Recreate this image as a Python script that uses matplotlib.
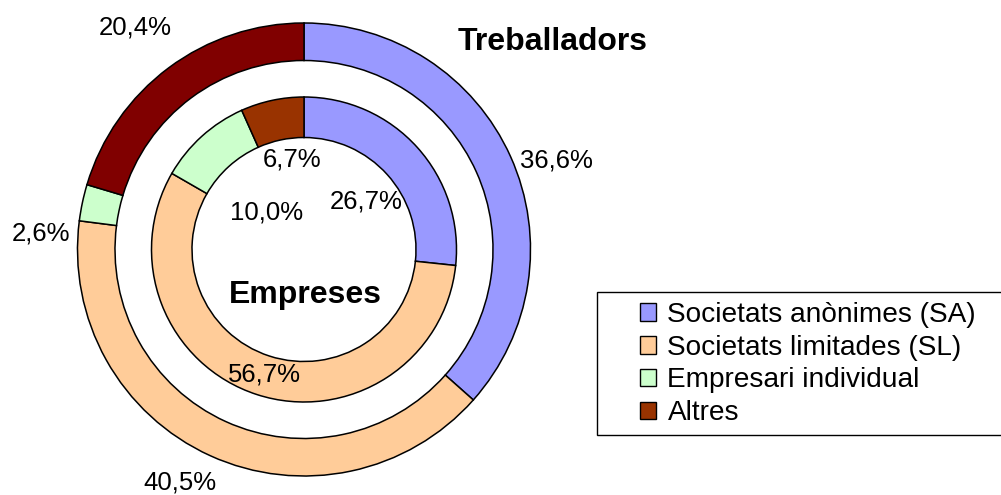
import matplotlib
matplotlib.use('Agg')
import matplotlib.pyplot as plt
from matplotlib.patches import Patch, Rectangle
import numpy as np

# ---- data ----
categories = ['Societats anònimes (SA)', 'Societats limitades (SL)',
              'Empresari individual', 'Altres']
treballadors = [36.6, 40.5, 2.6, 20.4]
empreses = [26.7, 56.7, 10.0, 6.7]
treballadors_labels = ['36,6%', '40,5%', '2,6%', '20,4%']
empreses_labels = ['26,7%', '56,7%', '10,0%', '6,7%']
ring_titles = ['Treballadors', 'Empreses']

# ---- styles ----
colors_outer = ['#9999FF', '#FFCC99', '#CCFFCC', '#800000']
colors_inner = ['#9999FF', '#FFCC99', '#CCFFCC', '#993300']
# label placement (radius in units of outer radius, angle shift in degrees)
outer_lab_r = [1.183, 1.155, 1.166, 1.24]
outer_lab_shift = [-4.3, -3.8, 8.0, 0.3]
inner_lab_r = [0.353, 0.57, 0.24, 0.41]
inner_lab_shift = [-3.0, 0.2, 1.2, -4.6]

plt.rcParams['font.family'] = ['Liberation Sans', 'DejaVu Sans']

W, H, dpi = 1001, 495, 100
fig = plt.figure(figsize=(W / dpi, H / dpi), dpi=dpi)

cx, cy_top, R = 304.0, 249.5, 226.5
cy = H - cy_top
half = 260.0
ax = fig.add_axes([(cx - half) / W, (cy - half) / H, 2 * half / W, 2 * half / H])

wk = dict(edgecolor='black', linewidth=1.1)
w_out, _ = ax.pie(treballadors, radius=1.0, colors=colors_outer, startangle=90,
                  counterclock=False,
                  wedgeprops=dict(width=1 - 189.0 / R, **wk))
w_in, _ = ax.pie(empreses, radius=152.5 / R, colors=colors_inner, startangle=90,
                 counterclock=False,
                 wedgeprops=dict(width=(152.5 - 112.0) / R, **wk))
ax.set_xlim(-half / R, half / R)
ax.set_ylim(-half / R, half / R)
ax.set_aspect('equal')
ax.axis('off')

lab_fs = 18.5
for wedges, labs, rads, shifts in [(w_out, treballadors_labels, outer_lab_r, outer_lab_shift),
                                   (w_in, empreses_labels, inner_lab_r, inner_lab_shift)]:
    for w, lab, r, s in zip(wedges, labs, rads, shifts):
        ang = np.deg2rad((w.theta1 + w.theta2) / 2 + s)
        ax.text(r * np.cos(ang), r * np.sin(ang), lab, ha='center',
                va='center_baseline', fontsize=lab_fs, color='black', clip_on=False)

fig.text(552.5 / W, 1 - 38 / H, ring_titles[0], ha='center', va='center_baseline',
         fontsize=23, fontweight='bold')
fig.text(305 / W, 1 - 292 / H, ring_titles[1], ha='center', va='center_baseline',
         fontsize=23, fontweight='bold')

# legend box
fig.patches.append(Rectangle((597 / W, 1 - 435 / H), (W + 10 - 597) / W, (435 - 292) / H,
                             transform=fig.transFigure, facecolor='white',
                             edgecolor='black', linewidth=1.0, zorder=0))
handles = [Patch(facecolor=c, edgecolor='black', linewidth=1.0) for c in colors_inner]
leg = fig.legend(handles, categories, loc='upper left',
                 bbox_to_anchor=(640 / W, 1 - 302 / H), frameon=False,
                 fontsize=20.2, handlelength=0.58, handleheight=0.58,
                 handletextpad=0.4, labelspacing=0.24, borderpad=0.0,
                 borderaxespad=0.0)

fig.savefig('out.png', dpi=dpi)
